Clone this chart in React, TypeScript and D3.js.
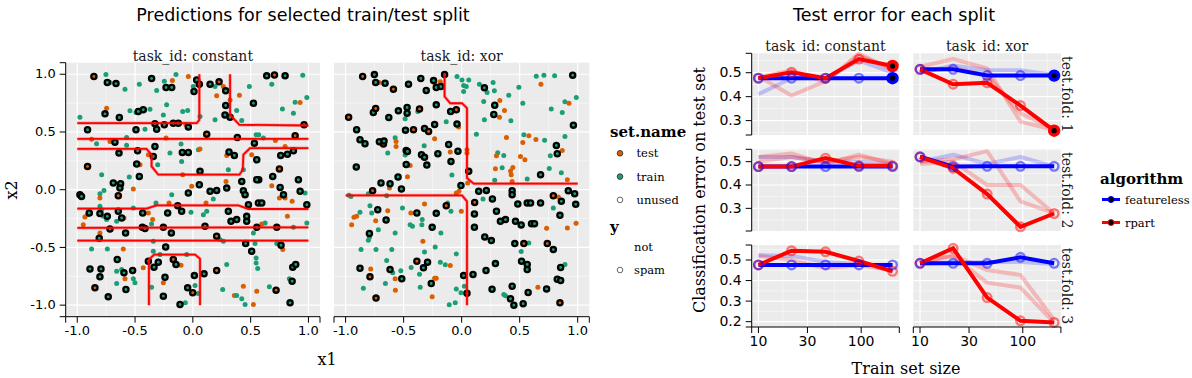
import React from "react";
import * as d3 from "d3";

// ---------------- DATA ----------------
// scatter points: [x1, x2, set ("t"=test, "r"=train), spam (1) / not (0)]
const constantPoints: [number, number, string, number][] = [
  [-0.856,0.98,"t",1],[-0.752,0.997,"r",0],[-0.74,0.928,"r",1],[-0.717,0.928,"r",0],[-0.665,0.919,"r",1],
  [-0.587,0.87,"r",0],[-0.463,0.914,"r",0],[-0.357,0.963,"r",1],[-0.313,0.859,"r",0],[-0.247,0.939,"r",0],
  [-0.232,0.885,"r",1],[-0.183,0.885,"r",1],[-0.177,0.945,"t",0],[-0.146,0.997,"r",0],[-0.039,0.98,"t",0],
  [0.01,0.85,"r",1],[0.033,0.951,"r",1],[0.056,0.914,"r",1],[0.004,0.893,"r",0],[0.149,0.914,"r",1],
  [0.227,0.934,"t",1],[0.192,0.893,"r",0],[0.264,0.893,"t",0],[0.284,0.856,"r",1],[0.639,0.986,"r",1],
  [0.706,0.994,"t",1],[0.798,0.988,"r",1],[0.683,0.914,"r",0],[0.951,0.991,"r",0],[0.489,0.893,"r",0],
  [0.206,0.813,"t",0],[0.403,0.818,"t",0],[0.322,0.778,"t",0],[0.284,0.729,"r",1],[0.524,0.749,"r",1],
  [0.885,0.758,"r",0],[0.928,0.755,"t",0],[0.986,0.798,"r",0],[0.775,0.7,"r",0],[0.87,0.663,"r",0],
  [0.379,0.686,"r",0],[0.278,0.648,"r",1],[0.322,0.628,"r",1],[0.423,0.599,"r",0],[0.192,0.605,"r",0],
  [0.062,0.634,"r",0],[-0.045,0.686,"r",0],[-0.088,0.677,"r",0],[-0.227,0.735,"r",0],[-0.255,0.648,"r",0],
  [-0.429,0.692,"r",1],[-0.472,0.677,"r",1],[-0.492,0.669,"r",0],[-0.371,0.697,"r",0],[-0.544,0.683,"r",0],
  [-0.636,0.625,"r",1],[-0.76,0.657,"r",1],[-0.746,0.706,"t",0],[-0.977,0.628,"r",0],
  [-0.313,0.524,"r",1],[-0.328,0.571,"r",1],[-0.247,0.562,"r",1],[-0.169,0.576,"r",1],[-0.039,0.542,"r",1],
  [-0.126,0.576,"r",1],[-0.059,0.562,"t",0],[-0.911,0.519,"r",1],[-0.492,0.519,"r",1],[-0.414,0.524,"r",0],
  [0.12,0.481,"t",1],[0.385,0.452,"r",1],[0.547,0.476,"r",0],[0.61,0.447,"r",0],[0.714,0.427,"t",0],
  [0.885,0.467,"t",1],[0.962,0.562,"r",1],[-0.876,0.438,"t",0],[-0.833,0.398,"r",0],[-0.674,0.412,"r",1],
  [-0.717,0.418,"t",0],[-0.573,0.452,"r",0],[-0.573,0.386,"r",0],[-0.639,0.317,"r",1],[-0.478,0.337,"r",1],
  [-0.457,0.216,"t",0],[-0.486,0.222,"r",1],[-0.328,0.375,"r",1],[-0.342,0.288,"r",1],[-0.385,0.303,"t",0],
  [-0.304,0.216,"r",0],[-0.232,0.447,"t",0],[-0.198,0.317,"r",0],[-0.102,0.395,"r",0],[-0.091,0.323,"r",1],
  [-0.097,0.245,"r",0],[0.048,0.346,"r",0],[0.062,0.352,"t",0],[-0.039,0.323,"r",1],[0.062,0.159,"r",1],
  [0.313,0.326,"r",1],[0.359,0.297,"r",1],[0.307,0.173,"r",0],[0.293,0.297,"t",0],[0.437,0.173,"r",0],
  [0.509,0.303,"t",0],[0.532,0.403,"r",1],[0.553,0.259,"r",1],[0.57,0.476,"r",0],[0.76,0.297,"r",1],
  [0.818,0.308,"r",1],[0.87,0.337,"r",1],[0.798,0.375,"t",0],[0.749,0.179,"t",1],[0.691,0.115,"r",1],
  [0.57,0.086,"r",1],[0.683,0.035,"t",0],[-0.911,0.202,"t",1],[-0.789,0.13,"r",0],[-0.55,0.11,"r",0],
  [-0.463,0.115,"r",1],[-0.515,0.006,"t",0],[-0.688,0.058,"r",1],[-0.625,0.052,"r",1],[-0.631,0.014,"r",1],
  [-0.645,-0.052,"t",1],[-0.804,-0.035,"r",0],[-0.804,-0.072,"t",0],[-0.769,-0.006,"r",0],[-0.977,-0.043,"r",1],
  [-0.963,-0.058,"r",1],[-0.088,0.13,"t",0],[-0.01,0.029,"t",0],[-0.183,-0.043,"r",0],[-0.039,-0.029,"r",1],
  [0.056,0.043,"r",1],[0.149,-0.014,"r",1],[0.206,-0.006,"r",1],[0.177,-0.081,"r",0],[0.114,-0.115,"t",0],
  [0.287,0.072,"t",0],[0.293,0.014,"r",1],[0.423,0.072,"r",1],[0.437,-0.009,"r",1],[0.452,-0.043,"r",1],
  [0.481,-0.13,"r",1],[0.553,0.086,"r",1],[0.567,-0.115,"r",1],[0.596,-0.115,"r",1],[0.755,0.02,"r",1],
  [0.784,-0.043,"r",1],[0.798,-0.072,"t",0],[0.859,-0.101,"t",0],[0.913,0.086,"r",1],[0.928,-0.014,"r",1],
  [0.971,-0.029,"r",0],[0.986,-0.13,"r",1],[0.749,-0.072,"t",0],[-0.896,-0.202,"r",1],[-0.911,-0.216,"r",0],
  [-0.934,-0.236,"t",0],[-0.948,-0.303,"t",0],[-0.804,-0.144,"r",0],[-0.789,-0.173,"r",0],[-0.804,-0.207,"r",1],
  [-0.74,-0.231,"r",1],[-0.746,-0.259,"r",0],[-0.775,-0.231,"r",0],[-0.645,-0.187,"r",1],[-0.659,-0.274,"r",0],
  [-0.616,-0.245,"r",1],[-0.596,-0.245,"t",0],[-0.515,-0.159,"r",0],[-0.434,-0.202,"r",1],[-0.385,-0.202,"t",0],
  [-0.348,-0.259,"t",0],[-0.319,-0.115,"r",0],[-0.218,-0.202,"r",1],[-0.206,-0.115,"t",0],[-0.131,-0.138,"r",1],
  [-0.097,-0.187,"r",1],[-0.016,-0.196,"r",0],[0.091,-0.216,"r",0],[0.12,-0.187,"r",0],[0.105,-0.317,"r",1],
  [-0.255,-0.326,"r",1],[-0.357,-0.297,"r",0],[-0.437,-0.326,"r",1],[-0.414,-0.337,"r",1],[-0.582,-0.375,"r",1],
  [-0.717,-0.34,"r",1],[-0.804,-0.375,"t",0],[-0.81,-0.421,"r",1],[0.307,-0.187,"r",1],[0.33,-0.274,"r",1],
  [0.379,-0.259,"r",1],[0.466,-0.274,"r",1],[0.466,-0.231,"r",1],[0.553,-0.326,"r",1],[0.596,-0.297,"t",0],
  [0.625,-0.288,"r",0],[0.726,-0.326,"r",1],[0.818,-0.231,"t",0],[0.87,-0.326,"r",0],[0.986,-0.288,"r",0],
  [0.524,-0.375,"r",0],[0.206,-0.403,"t",1],[0.235,-0.432,"r",0],[0.264,-0.447,"r",0],[-0.342,-0.447,"r",0],
  [-0.235,-0.496,"r",1],[-0.186,-0.375,"r",1],[0.457,-0.467,"r",1],[0.538,-0.467,"r",0],[0.509,-0.533,"r",1],
  [0.726,-0.467,"r",0],[0.763,-0.481,"r",1],[0.778,-0.519,"t",0],[-0.876,-0.513,"r",0],[-0.74,-0.513,"r",0],
  [-0.602,-0.513,"t",0],[-0.342,-0.533,"r",0],[-0.284,-0.562,"r",0],[-0.654,-0.605,"r",1],[-0.659,-0.706,"r",0],
  [-0.616,-0.692,"r",0],[-0.596,-0.72,"r",1],[-0.587,-0.772,"t",0],[-0.521,-0.7,"r",1],[-0.515,-0.772,"r",0],
  [-0.501,-0.807,"r",0],[-0.89,-0.686,"r",1],[-0.795,-0.686,"r",1],[-0.804,-0.755,"r",1],[-0.659,-0.813,"r",0],
  [-0.732,-0.928,"r",1],[-0.847,-0.85,"t",1],[-0.579,-0.865,"r",1],[-0.429,-0.677,"t",0],[-0.385,-0.62,"r",1],
  [-0.336,-0.671,"r",1],[-0.299,-0.628,"r",1],[-0.357,-0.844,"r",0],[-0.255,-0.807,"t",0],[-0.241,-0.758,"r",1],
  [-0.169,-0.605,"t",1],[-0.146,-0.648,"r",1],[-0.102,-0.654,"t",0],[-0.053,-0.562,"r",0],[0.013,-0.744,"r",1],
  [0.019,-0.83,"r",0],[0.097,-0.729,"r",1],[0.206,-0.7,"t",1],[0.293,-0.648,"r",0],[-0.045,-0.85,"r",1],
  [-0.001,-0.893,"t",1],[0.048,-0.899,"r",0],[-0.255,-0.922,"r",1],[-0.111,-0.994,"r",1],[-0.065,-0.98,"r",0],
  [0.258,-0.865,"r",0],[0.359,-0.916,"t",0],[0.379,-0.916,"r",0],[0.423,-0.945,"r",0],[0.452,-0.994,"r",0],
  [0.437,-0.836,"t",0],[0.553,-0.879,"t",0],[0.524,-0.994,"t",0],[0.547,-0.634,"r",0],[0.561,-0.683,"r",0],
  [0.662,-0.841,"r",0],[0.72,-0.87,"t",1],[0.835,-0.772,"r",0],[0.859,-0.793,"r",1],[0.864,-0.671,"r",1],
  [0.89,-0.648,"r",1],[0.841,-0.98,"r",1],[0.547,-0.591,"r",0],[0.735,-0.467,"r",0],
];

const xorPoints: [number, number, string, number][] = [
  [-0.853,0.98,"t",1],[-0.752,0.997,"r",1],[-0.741,0.928,"r",1],[-0.712,0.928,"t",0],[-0.66,0.922,"r",1],
  [-0.588,0.87,"t",1],[-0.458,0.914,"r",1],[-0.352,0.963,"r",1],[-0.305,0.859,"r",1],[-0.242,0.945,"r",1],
  [-0.228,0.914,"t",0],[-0.219,0.885,"r",1],[-0.184,0.934,"t",0],[-0.179,0.893,"r",1],[-0.147,0.997,"t",1],
  [-0.04,0.98,"r",0],[0.003,0.951,"r",0],[0.017,0.902,"r",0],[0.04,0.893,"r",0],[0.017,0.85,"r",0],
  [0.061,0.951,"r",0],[0.153,0.914,"r",0],[0.196,0.882,"r",1],[0.219,0.841,"r",0],[0.271,0.928,"r",0],
  [0.282,0.856,"r",0],[0.19,0.764,"r",0],[0.406,0.818,"r",0],[0.493,0.888,"r",0],[0.643,0.983,"r",0],
  [0.709,0.991,"r",0],[0.801,0.988,"r",0],[0.957,0.991,"r",1],[0.683,0.914,"t",0],[0.527,0.749,"r",0],
  [0.329,0.772,"t",0],[0.285,0.732,"r",1],[0.369,0.686,"t",0],[0.326,0.628,"t",0],[0.277,0.651,"r",1],
  [0.424,0.597,"r",0],[0.196,0.605,"r",0],[0.772,0.7,"r",0],[0.867,0.669,"r",0],[0.89,0.761,"r",0],
  [0.925,0.749,"t",0],[0.988,0.798,"r",0],[0.963,0.559,"r",1],[-0.974,0.628,"t",1],[-0.761,0.669,"r",1],
  [-0.741,0.703,"t",1],[-0.628,0.625,"r",1],[-0.545,0.683,"r",1],[-0.487,0.614,"r",0],[-0.47,0.712,"r",1],
  [-0.47,0.663,"r",1],[-0.378,0.677,"r",0],[-0.363,0.7,"t",1],[-0.219,0.735,"r",1],[-0.133,0.588,"r",0],
  [-0.095,0.677,"r",1],[-0.046,0.692,"t",1],[-0.04,0.568,"r",1],[-0.026,0.542,"t",0],[-0.233,0.565,"r",1],
  [-0.905,0.519,"r",1],[-0.876,0.432,"r",1],[-0.833,0.398,"r",1],[-0.709,0.415,"r",1],[-0.674,0.395,"t",1],
  [-0.669,0.421,"r",1],[-0.637,0.317,"r",0],[-0.573,0.45,"r",0],[-0.565,0.418,"t",0],[-0.565,0.375,"t",0],
  [-0.484,0.516,"r",1],[-0.415,0.519,"t",1],[-0.32,0.53,"r",1],[-0.285,0.504,"t",1],[-0.323,0.38,"r",0],
  [-0.233,0.441,"t",0],[-0.478,0.34,"r",1],[-0.467,0.331,"r",1],[-0.346,0.303,"r",1],[-0.32,0.28,"r",1],
  [-0.3,0.213,"r",1],[-0.478,0.219,"r",1],[-0.444,0.21,"t",0],[-0.487,0.3,"r",0],[-0.205,0.311,"r",1],
  [-0.112,0.392,"r",1],[-0.098,0.326,"t",0],[-0.032,0.334,"r",1],[-0.092,0.245,"r",1],[-0.084,0.127,"r",0],
  [0.127,0.481,"r",0],[0.386,0.452,"t",0],[0.536,0.476,"r",0],[0.579,0.467,"t",0],[0.527,0.409,"t",0],
  [0.64,0.435,"t",0],[0.715,0.429,"r",0],[0.816,0.383,"r",1],[0.867,0.34,"t",0],[0.824,0.311,"r",1],
  [0.764,0.294,"r",0],[0.89,0.461,"r",0],[0.311,0.32,"r",0],[0.3,0.294,"t",0],[0.363,0.297,"r",0],
  [0.507,0.288,"t",0],[0.545,0.259,"t",0],[0.441,0.193,"t",0],[0.427,0.13,"t",0],[0.421,0.161,"t",0],
  [0.291,0.182,"t",0],[0.349,0.19,"r",0],[0.046,0.346,"t",0],[0.046,0.317,"t",0],[0.061,0.159,"r",1],
  [0.052,0.058,"t",0],[0.285,0.081,"r",0],[0.435,0.072,"t",0],[0.565,0.092,"r",0],[0.68,0.13,"r",1],
  [0.755,0.184,"r",0],[0.859,0.147,"r",0],[0.911,0.086,"t",0],[-0.908,0.196,"r",1],[-0.695,0.058,"r",1],
  [-0.617,0.052,"r",1],[-0.622,0.014,"t",0],[-0.548,0.11,"r",1],[-0.467,0.112,"t",0],[-0.971,-0.049,"r",0],
  [-0.954,-0.058,"r",0],[-0.804,-0.035,"r",0],[-0.767,-0.009,"t",1],[-0.905,-0.231,"t",0],[-0.928,-0.239,"t",0],
  [-0.948,-0.303,"t",0],[-0.876,-0.196,"r",0],[-0.79,-0.138,"r",0],[-0.775,-0.202,"r",0],[-0.741,-0.268,"t",0],
  [-0.723,-0.173,"r",1],[-0.651,-0.262,"r",1],[-0.637,-0.182,"t",0],[-0.646,-0.052,"r",0],[-0.519,0.006,"r",1],
  [-0.51,-0.159,"r",0],[-0.438,-0.202,"t",0],[-0.424,-0.317,"r",0],[-0.444,-0.303,"r",0],[-0.386,-0.202,"r",1],
  [-0.34,-0.259,"r",0],[-0.343,-0.303,"r",0],[-0.32,-0.124,"t",0],[-0.254,-0.326,"r",1],[-0.219,-0.205,"r",1],
  [-0.179,-0.375,"r",0],[-0.133,-0.138,"t",1],[-0.121,-0.115,"r",0],[-0.092,-0.187,"r",0],[-0.046,-0.029,"t",0],
  [-0.023,-0.014,"t",0],[-0.006,0.037,"r",1],[-0.003,-0.187,"t",0],[0.112,-0.11,"t",1],[0.11,-0.21,"r",1],
  [0.11,-0.326,"r",1],[0.147,-0.014,"r",1],[0.184,-0.081,"r",0],[0.213,-0.006,"r",1],[0.265,-0.081,"r",1],
  [0.3,-0.187,"r",1],[0.334,-0.274,"r",1],[0.378,-0.259,"r",1],[0.435,-0.009,"r",1],[0.435,-0.043,"r",1],
  [0.464,-0.274,"r",1],[0.484,-0.124,"r",1],[0.513,-0.305,"r",1],[0.565,-0.115,"r",1],[0.594,-0.115,"r",1],
  [0.602,-0.294,"r",1],[0.628,-0.294,"r",1],[0.68,-0.115,"r",1],[0.732,-0.334,"t",0],[0.79,-0.052,"t",1],
  [0.79,-0.159,"r",0],[0.833,-0.063,"t",0],[0.847,-0.222,"r",1],[0.859,-0.101,"r",1],[0.919,-0.009,"r",1],
  [0.974,-0.035,"r",1],[0.983,-0.127,"r",1],[0.986,-0.291,"t",0],[0.911,-0.331,"t",0],[0.199,-0.409,"r",1],
  [0.256,-0.441,"r",1],[-0.867,-0.519,"r",0],[-0.738,-0.519,"r",0],[-0.602,-0.519,"r",0],[-0.795,-0.38,"r",1],
  [-0.795,-0.412,"r",0],[-0.804,-0.438,"r",0],[-0.718,-0.346,"r",0],[-0.573,-0.375,"r",0],[-0.334,-0.447,"t",0],
  [-0.32,-0.539,"r",0],[-0.228,-0.496,"r",0],[-0.046,-0.556,"r",0],[-0.646,-0.614,"r",0],[-0.617,-0.692,"r",1],
  [-0.594,-0.72,"r",0],[-0.524,-0.703,"r",0],[-0.784,-0.686,"t",0],[-0.876,-0.68,"r",1],[-0.79,-0.755,"t",1],
  [-0.847,-0.853,"r",0],[-0.738,-0.939,"t",1],[-0.657,-0.813,"r",0],[-0.571,-0.87,"t",0],[-0.573,-0.772,"t",0],
  [-0.516,-0.772,"r",1],[-0.435,-0.674,"r",0],[-0.386,-0.62,"t",1],[-0.363,-0.732,"r",0],[-0.357,-0.844,"r",0],
  [-0.329,-0.677,"r",1],[-0.294,-0.628,"r",1],[-0.262,-0.813,"r",1],[-0.233,-0.767,"t",0],[-0.219,-0.767,"t",0],
  [-0.184,-0.628,"r",0],[-0.254,-0.928,"t",0],[-0.141,-0.651,"r",0],[-0.098,-0.657,"t",0],[-0.107,-0.997,"r",0],
  [-0.055,-0.98,"r",0],[-0.046,-0.859,"r",0],[-0.006,-0.893,"r",0],[0.017,-0.744,"r",1],[0.023,-0.836,"r",0],
  [0.046,-0.896,"r",1],[0.098,-0.735,"r",1],[0.21,-0.7,"r",1],[0.262,-0.862,"r",1],[0.291,-0.64,"r",1],
  [0.363,-0.908,"r",0],[0.378,-0.919,"r",0],[0.421,-0.945,"r",1],[0.435,-0.836,"r",1],[0.45,-1.0,"r",1],
  [0.458,-0.467,"r",1],[0.513,-0.536,"r",0],[0.516,-0.62,"r",1],[0.536,-0.467,"t",1],[0.565,-0.648,"r",1],
  [0.565,-0.692,"r",1],[0.579,-0.461,"r",0],[0.53,-0.988,"r",1],[0.573,-0.89,"r",1],[0.657,-0.844,"t",0],
  [0.738,-0.467,"t",1],[0.79,-0.519,"r",1],[0.732,-0.859,"r",1],[0.853,-0.674,"r",1],[0.89,-0.648,"r",0],
  [0.824,-0.775,"r",1],[0.853,-0.787,"r",1],[0.847,-0.98,"t",1],[0.207,-0.412,"r",0],
];

// decision boundaries (rpart predictions)
const constantBoundaries: [number, number][][] = [
  [[-1,0.576],[0.033,0.576],[0.056,0.605],[0.056,1.0]],
  [[0.322,1.0],[0.322,0.648],[0.403,0.562],[1.0,0.556]],
  [[-1,0.441],[1,0.441]],
  [[-1,0.354],[-0.4,0.354],[-0.357,0.303],[-0.357,0.202],[-0.299,0.13],[0.403,0.13],[0.432,0.173],[0.437,0.303],[0.495,0.36],[1,0.36]],
  [[-1,-0.164],[-0.4,-0.164],[-0.313,-0.135],[0.394,-0.135],[0.481,-0.167],[1,-0.167]],
  [[-1,-0.331],[1,-0.326]],
  [[-1,-0.441],[1,-0.441]],
  [[-0.38,-1],[-0.38,-0.605],[-0.334,-0.562],[0.019,-0.562],[0.062,-0.599],[0.062,-1]],
];
const xorBoundaries: [number, number][][] = [
  [[-0.147,1.0],[-0.147,0.807],[-0.098,0.749],[0.003,0.749],[0.046,0.706],[0.046,0.101],[0.104,0.052],[1.0,0.052]],
  [[-1,-0.049],[0.003,-0.049],[0.046,-0.101],[0.046,-1]],
];

const axisTicks = [-1, -0.5, 0, 0.5, 1];

// test error data
const trainSizes = [10, 21, 45, 95, 202];
const sizeTicks = [10, 30, 100];
const errorTicks = [0.2, 0.3, 0.4, 0.5];
const tasks = ["constant", "xor"];
const folds = [1, 2, 3];
const selectedFold = 1;
const selectedSize = 202;
// per fold: selected seed
const constFeatureless = [[0.477,0.477,0.477,0.477,0.477],[0.479,0.479,0.479,0.479,0.479],[0.476,0.476,0.476,0.476,0.476]];
const constRpart = [[0.477,0.502,0.477,0.557,0.528],[0.479,0.479,0.515,0.482,0.482],[0.476,0.545,0.54,0.495,0.445]];
const xorFeatureless = [[0.514,0.514,0.488,0.488,0.488],[0.521,0.479,0.48,0.48,0.48],[0.484,0.484,0.484,0.513,0.484]];
const xorRpart = [[0.514,0.452,0.458,0.363,0.258],[0.52,0.472,0.361,0.221,0.278],[0.484,0.557,0.317,0.204,0.196]];
// per fold: other seeds (faded)
const constFeaturelessOther = [[[0.41,0.477,0.477,0.55,0.5]],[[0.52,0.52,0.5,0.5,0.49]],[[0.524,0.52,0.49,0.48,0.47]]];
const constRpartOther = [[[0.485,0.405,0.465,0.57,0.52],[0.48,0.51,0.46,0.58,0.51]],[[0.52,0.535,0.49,0.53,0.49],[0.5,0.52,0.5,0.52,0.5]],[[0.52,0.5,0.46,0.475,0.45]]];
const xorFeaturelessOther = [[[0.5,0.53,0.51,0.51,0.49]],[[0.5,0.53,0.49,0.52,0.48]],[[0.48,0.49,0.49,0.49,0.48]]];
const xorRpartOther = [[[0.525,0.557,0.518,0.296,0.261],[0.505,0.52,0.49,0.33,0.265]],[[0.49,0.5,0.4,0.4,0.278],[0.5,0.51,0.545,0.33,0.28]],[[0.484,0.524,0.451,0.427,0.209],[0.49,0.518,0.39,0.366,0.194]]];
const rowDomains: [number, number][] = [[0.24,0.581],[0.203,0.553],[0.174,0.573]];

const setNames = ["test", "train", "unused"];
const yNames = ["not", "spam"];
const algorithms = ["featureless", "rpart"];

// ---------------- STYLE ----------------
const SANS = '"DejaVu Sans", sans-serif';
const SERIF = '"DejaVu Serif", serif';
const setColor: Record<string, string> = { t: "#d95f02", r: "#1b9e77", test: "#d95f02", train: "#1b9e77", unused: "#ffffff" };
const algoColor: Record<string, string> = { featureless: "#0000ff", rpart: "#ff0000" };
const BG = "#ebebeb";

const fmt = (v: number) => v.toFixed(1);

function BottomAxis({ scale, ticks, y, fmtFn, fs }: any) {
  const [r0, r1] = scale.range();
  return (
    <g>
      <path d={`M${r0},${y + 6}V${y}H${r1}V${y + 6}`} fill="none" stroke="#000" strokeWidth={1} />
      {ticks.map((t: number) => (
        <g key={t}>
          <line x1={scale(t)} x2={scale(t)} y1={y} y2={y + 6} stroke="#000" />
          <text x={scale(t)} y={y + 9} dy="0.71em" textAnchor="middle" fontFamily={SANS} fontSize={fs} fill="#000">{fmtFn(t)}</text>
        </g>
      ))}
    </g>
  );
}

function LeftAxis({ scale, ticks, x, fmtFn, fs }: any) {
  const [r0, r1] = scale.range();
  const lo = Math.min(r0, r1), hi = Math.max(r0, r1);
  const [d0, d1] = scale.domain();
  return (
    <g>
      <path d={`M${x - 6},${lo}H${x}V${hi}H${x - 6}`} fill="none" stroke="#000" strokeWidth={1} />
      {ticks.filter((t: number) => t >= Math.min(d0, d1) && t <= Math.max(d0, d1)).map((t: number) => (
        <g key={t}>
          <line x1={x - 6} x2={x} y1={scale(t)} y2={scale(t)} stroke="#000" />
          <text x={x - 10} y={scale(t)} dy="0.32em" textAnchor="end" fontFamily={SANS} fontSize={fs} fill="#000">{fmtFn(t)}</text>
        </g>
      ))}
    </g>
  );
}

function ScatterPanel({ xs, ys, points, bounds, label }: any) {
  const [x0, x1] = xs.range();
  const [yb, yt] = ys.range();
  const minor = [-0.75, -0.25, 0.25, 0.75];
  const line = d3.line<[number, number]>().x((d) => xs(d[0])).y((d) => ys(d[1]));
  const ordered = [...points.filter((p: any) => !p[3]), ...points.filter((p: any) => p[3])];
  return (
    <g>
      <rect x={x0} y={yt} width={x1 - x0} height={yb - yt} fill={BG} />
      {minor.map((v) => (
        <g key={"m" + v}>
          <line x1={xs(v)} x2={xs(v)} y1={yt} y2={yb} stroke="#fff" strokeWidth={0.5} />
          <line x1={x0} x2={x1} y1={ys(v)} y2={ys(v)} stroke="#fff" strokeWidth={0.5} />
        </g>
      ))}
      {axisTicks.map((v) => (
        <g key={"M" + v}>
          <line x1={xs(v)} x2={xs(v)} y1={yt} y2={yb} stroke="#fff" strokeWidth={1.2} />
          <line x1={x0} x2={x1} y1={ys(v)} y2={ys(v)} stroke="#fff" strokeWidth={1.2} />
        </g>
      ))}
      {ordered.map((p: any, i: number) =>
        p[3] ? (
          <circle key={i} cx={xs(p[0])} cy={ys(p[1])} r={2.6} fill={setColor[p[2]]} stroke="#000" strokeWidth={2.3} />
        ) : (
          <circle key={i} cx={xs(p[0])} cy={ys(p[1])} r={2.5} fill={setColor[p[2]]} />
        )
      )}
      {bounds.map((b: any, i: number) => (
        <g key={"b" + i}>
          <path d={line(b) || ""} fill="none" stroke="#ff0000" strokeOpacity={0.35} strokeWidth={3.2} />
          <path d={line(b) || ""} fill="none" stroke="#ff0000" strokeWidth={1.8} />
        </g>
      ))}
      <text x={(x0 + x1) / 2} y={yt - 1.5} textAnchor="middle" fontFamily={SERIF} fontSize={14} fill="#1a1a1a">{label}</text>
    </g>
  );
}

function ErrorCell({ xs, ys, feat, rpart, featOther, rpartOther, fold }: any) {
  const [x0, x1] = xs.range();
  const [yb, yt] = ys.range();
  const [d0, d1] = ys.domain();
  const majorY = errorTicks.filter((t) => t >= d0 && t <= d1);
  const minorY = [0.25, 0.35, 0.45, 0.55].filter((t) => t >= d0 && t <= d1);
  const minorX = [Math.sqrt(10 * 30), Math.sqrt(30 * 100), Math.sqrt(100 * 300)];
  const ln = d3.line<number>().x((_, i) => xs(trainSizes[i])).y((d) => ys(d));
  return (
    <g>
      <rect x={x0} y={yt} width={x1 - x0} height={yb - yt} fill={BG} />
      {minorY.map((v) => <line key={"my" + v} x1={x0} x2={x1} y1={ys(v)} y2={ys(v)} stroke="#fff" strokeWidth={0.5} />)}
      {minorX.map((v) => <line key={"mx" + v} x1={xs(v)} x2={xs(v)} y1={yt} y2={yb} stroke="#fff" strokeWidth={0.5} />)}
      {majorY.map((v) => <line key={"y" + v} x1={x0} x2={x1} y1={ys(v)} y2={ys(v)} stroke="#fff" strokeWidth={1.2} />)}
      {sizeTicks.map((v) => <line key={"x" + v} x1={xs(v)} x2={xs(v)} y1={yt} y2={yb} stroke="#fff" strokeWidth={1.2} />)}
      {featOther.map((s: number[], i: number) => (
        <path key={"fo" + i} d={ln(s) || ""} fill="none" stroke={algoColor.featureless} strokeOpacity={0.2} strokeWidth={4} strokeLinejoin="round" />
      ))}
      {rpartOther.map((s: number[], i: number) => (
        <path key={"ro" + i} d={ln(s) || ""} fill="none" stroke={algoColor.rpart} strokeOpacity={0.22} strokeWidth={4} strokeLinejoin="round" />
      ))}
      <path d={ln(feat) || ""} fill="none" stroke={algoColor.featureless} strokeWidth={4} />
      <path d={ln(rpart) || ""} fill="none" stroke={algoColor.rpart} strokeWidth={4} />
      {rpart.map((v: number, i: number) => (
        <circle key={"rc" + i} cx={xs(trainSizes[i])} cy={ys(v)} r={4.3} fill="none" stroke={algoColor.rpart} strokeOpacity={0.5} strokeWidth={2.4} />
      ))}
      {feat.map((v: number, i: number) => (
        <circle key={"fc" + i} cx={xs(trainSizes[i])} cy={ys(v)} r={4.3} fill="none" stroke={algoColor.featureless} strokeOpacity={0.5} strokeWidth={2.4} />
      ))}
      {fold === selectedFold && [["rpart", rpart], ["featureless", feat]].map(([a, s]: any) => {
        const i = trainSizes.indexOf(selectedSize);
        return <circle key={"sel" + a} cx={xs(selectedSize)} cy={ys(s[i])} r={4.4} fill="#000" stroke={algoColor[a]} strokeWidth={3.6} />;
      })}
    </g>
  );
}

export default function App() {
  const ysc = d3.scaleLinear().domain([-1.1, 1.1]).range([316.7, 62.7]);
  const xs1 = d3.scaleLinear().domain([-1.1, 1.1]).range([65.7, 320]);
  const xs2 = d3.scaleLinear().domain([-1.1, 1.1]).range([334, 589.3]);

  const colRanges: [number, number][] = [[751.7, 899.3], [913.3, 1060.9]];
  const rowRanges: [number, number][] = [[53.3, 135], [149.3, 231], [245, 327]];
  const xsErr = colRanges.map((r) => d3.scaleLog().domain([8.6, 235]).range(r));
  const ysErr = rowRanges.map((r, i) => d3.scaleLinear().domain(rowDomains[i]).range([r[1], r[0]]));

  const taskData: any = {
    constant: { feat: constFeatureless, rpart: constRpart, featO: constFeaturelessOther, rpartO: constRpartOther },
    xor: { feat: xorFeatureless, rpart: xorRpart, featO: xorFeaturelessOther, rpartO: xorRpartOther },
  };

  return (
    <svg width={1192} height={378} style={{ position: "absolute", left: 0, top: 0, background: "#fff" }}>
      {/* ---------- left chart ---------- */}
      <text x={303} y={21} textAnchor="middle" fontFamily={SANS} fontSize={17.5} fill="#000">Predictions for selected train/test split</text>
      <ScatterPanel xs={xs1} ys={ysc} points={constantPoints} bounds={constantBoundaries} label="task_id: constant" />
      <ScatterPanel xs={xs2} ys={ysc} points={xorPoints} bounds={xorBoundaries} label="task_id: xor" />
      <LeftAxis scale={ysc} ticks={axisTicks} x={65.7} fmtFn={fmt} fs={13} />
      <BottomAxis scale={xs1} ticks={axisTicks} y={316.7} fmtFn={fmt} fs={13} />
      <BottomAxis scale={xs2} ticks={axisTicks} y={316.7} fmtFn={fmt} fs={13} />
      <text x={327} y={365} textAnchor="middle" fontFamily={SERIF} fontSize={16} fill="#000">x1</text>
      <text transform="translate(17,190) rotate(-90)" textAnchor="middle" fontFamily={SERIF} fontSize={16} fill="#000">x2</text>

      {/* legend set.name / y */}
      <text x={610} y={137} fontFamily={SERIF} fontWeight="bold" fontSize={15} fill="#000">set.name</text>
      {setNames.map((s, i) => (
        <g key={s}>
          <circle cx={620} cy={153.3 + i * 23.3} r={2.8} fill={setColor[s]} stroke={s === "unused" ? "#555" : "#333"} strokeWidth={0.9} />
          <text x={636.5} y={153.3 + i * 23.3} dy="0.35em" fontFamily={SERIF} fontSize={11.5} fill="#000">{s}</text>
        </g>
      ))}
      <text x={610} y={232} fontFamily={SERIF} fontWeight="bold" fontSize={15} fill="#000">y</text>
      {yNames.map((s, i) => (
        <g key={s}>
          {s === "spam" && <circle cx={620} cy={246.7 + i * 23.3} r={2.8} fill="#fff" stroke="#555" strokeWidth={0.9} />}
          <text x={634} y={246.7 + i * 23.3} dy="0.35em" fontFamily={SERIF} fontSize={11.5} fill="#000">{s}</text>
        </g>
      ))}

      {/* ---------- right chart ---------- */}
      <text x={894} y={21} textAnchor="middle" fontFamily={SANS} fontSize={17.5} fill="#000">Test error for each split</text>
      {tasks.map((t, c) => (
        <text key={"st" + t} x={(colRanges[c][0] + colRanges[c][1]) / 2} y={51} textAnchor="middle" fontFamily={SERIF} fontSize={14} fill="#1a1a1a">{"task_id: " + t}</text>
      ))}
      {folds.map((f, r) =>
        tasks.map((t, c) => (
          <ErrorCell
            key={t + f}
            xs={xsErr[c]}
            ys={ysErr[r]}
            feat={taskData[t].feat[r]}
            rpart={taskData[t].rpart[r]}
            featOther={taskData[t].featO[r]}
            rpartOther={taskData[t].rpartO[r]}
            fold={f}
          />
        ))
      )}
      {folds.map((f, r) => (
        <g key={"ax" + f}>
          <LeftAxis scale={ysErr[r]} ticks={errorTicks} x={751.7} fmtFn={fmt} fs={14} />
          <text transform={`translate(1067,${(rowRanges[r][0] + rowRanges[r][1]) / 2}) rotate(90)`} textAnchor="middle" dy="0.35em" fontFamily={SERIF} fontSize={14} fill="#1a1a1a">{"test.fold: " + f}</text>
        </g>
      ))}
      {xsErr.map((s, c) => (
        <BottomAxis key={"bx" + c} scale={s} ticks={sizeTicks} y={327} fmtFn={(v: number) => String(v)} fs={14} />
      ))}
      <text x={906} y={374} textAnchor="middle" fontFamily={SERIF} fontSize={16} fill="#000">Train set size</text>
      <text transform="translate(705,190) rotate(-90)" textAnchor="middle" fontFamily={SERIF} fontSize={16} fill="#000">Classification error on test set</text>

      {/* legend algorithm */}
      <text x={1100} y={183.5} fontFamily={SERIF} fontWeight="bold" fontSize={15} fill="#000">algorithm</text>
      {algorithms.map((a, i) => (
        <g key={a}>
          <line x1={1102} x2={1120} y1={199.5 + i * 23} y2={199.5 + i * 23} stroke={algoColor[a]} strokeWidth={3} />
          <circle cx={1111} cy={199.5 + i * 23} r={3} fill="#000" stroke={algoColor[a]} strokeWidth={1} />
          <text x={1125} y={199.5 + i * 23} dy="0.35em" fontFamily={SERIF} fontSize={11.5} fill="#000">{a}</text>
        </g>
      ))}
    </svg>
  );
}
